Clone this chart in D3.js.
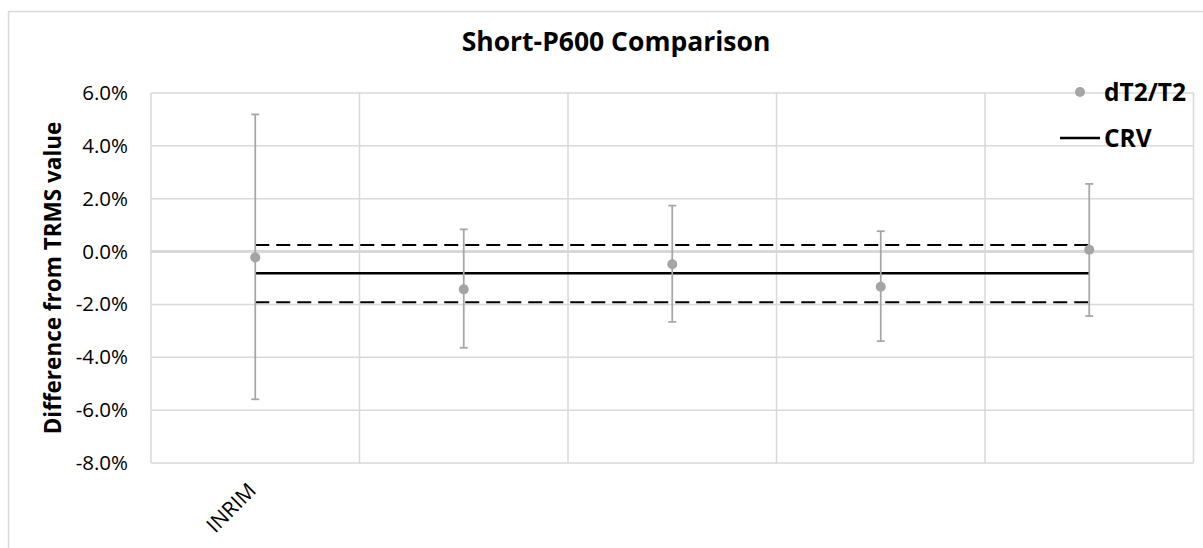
<!DOCTYPE html>
<meta charset="utf-8">
<script src="https://d3js.org/d3.v7.min.js"></script>
<style>
  body { margin: 0; background: #fff; }
  text { font-family: "Open Sans", "Noto Sans", sans-serif; }
</style>
<div id="chart"></div>
<script>
  // data, in percent
  var labs = ["INRIM", "", "", "", ""];
  var vals = [-0.22, -1.43, -0.48, -1.33, 0.07];
  var errHi = [5.19, 0.84, 1.74, 0.77, 2.56];
  var errLo = [-5.59, -3.64, -2.66, -3.39, -2.44];
  var crv = -0.82, crvHi = 0.25, crvLo = -1.92;
  var yTicks = [6, 4, 2, 0, -2, -4, -6, -8];

  var W = 1203, H = 548;
  var margin = {top: 93, left: 151, right: 9.5, bottom: 85};

  var svg = d3.select("#chart").append("svg")
    .attr("width", W).attr("height", H);

  // outer chart frame
  svg.append("rect")
    .attr("x", 8.5).attr("y", 11.5)
    .attr("width", 1240).attr("height", 600)
    .attr("fill", "none").attr("stroke", "#d9d9d9").attr("stroke-width", 1.5);

  var x = d3.scaleBand()
    .domain(d3.range(labs.length))
    .range([margin.left, W - margin.right])
    .padding(0);

  var y = d3.scaleLinear()
    .domain([-8, 6])
    .range([H - margin.bottom, margin.top]);

  // horizontal gridlines
  svg.append("g").selectAll("line")
    .data(yTicks)
    .enter().append("line")
      .attr("x1", margin.left).attr("x2", W - margin.right)
      .attr("y1", function(d) { return y(d); })
      .attr("y2", function(d) { return y(d); })
      .attr("stroke", "#d9d9d9")
      .attr("stroke-width", function(d) { return d === 0 ? 3 : 1.5; });

  // vertical gridlines at category edges
  var edges = d3.range(labs.length + 1).map(function(i) {
    return i < labs.length ? x(i) : x(labs.length - 1) + x.bandwidth();
  });
  svg.append("g").selectAll("line")
    .data(edges)
    .enter().append("line")
      .attr("x1", function(d) { return d; }).attr("x2", function(d) { return d; })
      .attr("y1", y(6)).attr("y2", y(-8))
      .attr("stroke", "#d9d9d9").attr("stroke-width", 1.5);

  // y axis labels
  var yAxis = svg.append("g")
    .attr("transform", "translate(" + (margin.left - 20) + ",0)")
    .call(d3.axisLeft(y).tickValues(yTicks).tickSize(0)
      .tickFormat(function(d) { return d.toFixed(1) + "%"; }));
  yAxis.select(".domain").remove();
  yAxis.selectAll("text")
    .attr("font-size", 20.5)
    .attr("fill", "#000")
    .style("font-family", "'Open Sans', sans-serif");

  // x category labels
  svg.append("g").selectAll("text")
    .data(labs)
    .enter().append("text")
      .attr("transform", function(d, i) {
        return "translate(" + (x(i) + x.bandwidth() / 2 + 2) + "," + (y(-8) + 29) + ") rotate(-45)";
      })
      .attr("text-anchor", "end")
      .attr("font-size", 21)
      .attr("fill", "#000")
      .text(function(d) { return d; });

  var x0 = x(0) + x.bandwidth() / 2,
      x1 = x(labs.length - 1) + x.bandwidth() / 2;

  // CRV lines
  [crvHi, crvLo].forEach(function(v) {
    svg.append("line")
      .attr("x1", x0).attr("x2", x1)
      .attr("y1", y(v)).attr("y2", y(v))
      .attr("stroke", "#000").attr("stroke-width", 2)
      .attr("stroke-dasharray", "14,7");
  });
  svg.append("line")
    .attr("x1", x0).attr("x2", x1)
    .attr("y1", y(crv)).attr("y2", y(crv))
    .attr("stroke", "#000").attr("stroke-width", 2.5);

  // error bars
  var eb = svg.append("g").attr("stroke", "#a6a6a6").attr("stroke-width", 1.75);
  vals.forEach(function(v, i) {
    var cx = x(i) + x.bandwidth() / 2;
    eb.append("line").attr("x1", cx).attr("x2", cx)
      .attr("y1", y(errHi[i])).attr("y2", y(errLo[i]));
    eb.append("line").attr("x1", cx - 4).attr("x2", cx + 4)
      .attr("y1", y(errHi[i])).attr("y2", y(errHi[i]));
    eb.append("line").attr("x1", cx - 4).attr("x2", cx + 4)
      .attr("y1", y(errLo[i])).attr("y2", y(errLo[i]));
  });

  // points
  svg.append("g").selectAll("circle")
    .data(vals)
    .enter().append("circle")
      .attr("cx", function(d, i) { return x(i) + x.bandwidth() / 2; })
      .attr("cy", function(d) { return y(d); })
      .attr("r", 5)
      .attr("fill", "#a5a5a5");

  // title
  svg.append("text")
    .attr("x", 616).attr("y", 51)
    .attr("text-anchor", "middle")
    .attr("font-size", 26.5).attr("font-weight", "bold")
    .text("Short-P600 Comparison");

  // y axis title
  svg.append("text")
    .attr("transform", "translate(61," + ((y(6) + y(-8)) / 2) + ") rotate(-90)")
    .attr("text-anchor", "middle")
    .attr("font-size", 22.5).attr("font-weight", "bold")
    .text("Difference from TRMS value");

  // legend
  var lg = svg.append("g");
  lg.append("circle").attr("cx", 1080).attr("cy", 92).attr("r", 5).attr("fill", "#a5a5a5");
  lg.append("text").attr("x", 1104).attr("y", 101)
    .attr("font-size", 24.5).attr("font-weight", "bold").text("dT2/T2");
  lg.append("line").attr("x1", 1060).attr("x2", 1100).attr("y1", 138).attr("y2", 138)
    .attr("stroke", "#000").attr("stroke-width", 2.5);
  lg.append("text").attr("x", 1104).attr("y", 147)
    .attr("font-size", 24.5).attr("font-weight", "bold").text("CRV");
</script>
